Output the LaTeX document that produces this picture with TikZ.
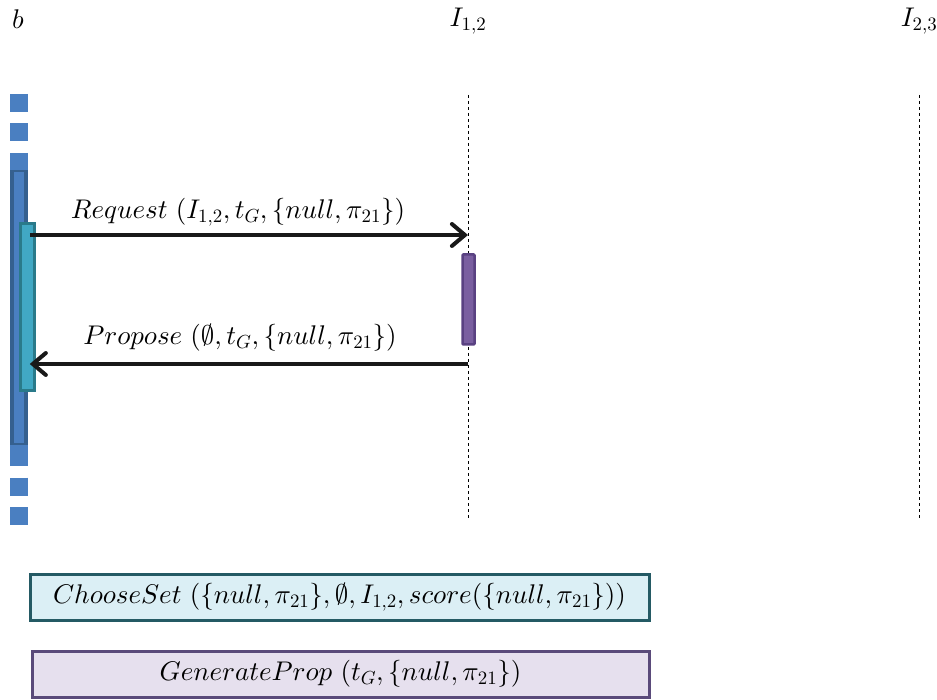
\documentclass[tikz,border=0pt]{standalone}
\usepackage{amsmath}
\usepackage{tikz}
\usetikzlibrary{arrows.meta,positioning}
% scalable math fonts at any size
\DeclareFontFamily{OML}{cmm}{\skewchar\font127}
\DeclareFontShape{OML}{cmm}{m}{it}{<->cmmi10}{}
\DeclareFontFamily{OMS}{cmsy}{\skewchar\font48}
\DeclareFontShape{OMS}{cmsy}{m}{n}{<->cmsy10}{}
\DeclareFontFamily{OT1}{cmr}{\hyphenchar\font45}
\DeclareFontShape{OT1}{cmr}{m}{n}{<->cmr10}{}
\newcommand{\diafont}{\fontsize{27}{32}\selectfont}
\definecolor{lifeblue}{HTML}{4A7FC1}
\definecolor{lifedark}{HTML}{35608F}
\definecolor{actteal}{HTML}{41A8C4}
\definecolor{actdark}{HTML}{2A7A8A}
\definecolor{actpurple}{HTML}{7A5FA0}
\definecolor{purpledark}{HTML}{5A4282}
\definecolor{chfill}{HTML}{DBEFF5}
\definecolor{chdraw}{HTML}{245A64}
\definecolor{gpfill}{HTML}{E6E0EE}
\definecolor{gpdraw}{HTML}{5A4A7A}
\tikzset{
  head/.style={inner sep=0pt, font=\diafont},
  msg/.style={-{Straight Barb[length=13pt, width=22pt, line width=4pt, line cap=round]}, line width=4pt, black!90},
  lbl/.style={inner sep=0pt, font=\diafont},
  life/.style={dashed, thin, black},
  actb/.style={rectangle, draw=actdark, line width=2.5pt, fill=actteal, minimum width=14pt, minimum height=167pt, inner sep=0pt},
  actp/.style={rectangle, rounded corners=1pt, draw=purpledark, line width=2.5pt, fill=actpurple, minimum width=12pt, minimum height=90pt, inner sep=0pt},
  task/.style={rectangle, line width=3pt, minimum height=46pt, inner sep=0pt, font=\diafont},
}
\begin{document}
\begin{tikzpicture}[x=1pt, y=-1pt]
\useasboundingbox (0,0) rectangle (937,700);
% lifeline heads
\node[head] (b) at (18,19) {$b$};
\node[head] (i12) at (468,21) {$I_{1,2}$};
\node[head] (i23) at (919,21) {$I_{2,3}$};
% lifeline of b
\coordinate (btop) at (18.5,94);
\coordinate (bbot) at (18.5,525);
\draw[lifeblue, line width=18pt, dash pattern=on 18pt off 11.5pt] (btop) -- (bbot);
\fill[lifeblue] (9.5,153) rectangle (27.5,463);
\draw[lifedark, line width=4pt] (11.5,172) rectangle (25.5,443);
\fill[lifeblue] (13.5,172) rectangle (23.5,443);
% lifelines of the two items
\coordinate (ltop12) at (468,95);
\coordinate (lbot12) at (468,520);
\coordinate (ltop23) at (919,95);
\coordinate (lbot23) at (919,520);
\draw[life] (ltop12) -- (lbot12);
\draw[life] (ltop23) -- (lbot23);
% activations
\node[actb] (act1) at (27.5,307) {};
\node[actp] (act2) at (468.5,299.5) {};
% messages
\coordinate (req1) at (act1.east |- 0,235);
\coordinate (req2) at (468,235);
\coordinate (pro1) at (468,364);
\coordinate (pro2) at ([xshift=-6pt]act1.east |- 0,364);
\draw[msg] ([xshift=-6pt]req1) -- (req2);
\draw[msg] (pro1) -- (pro2);
\node[lbl] (reqlbl) at (238,212) {$Request\ (I_{1,2}, t_G, \{null, \pi_{21}\})$};
\node[lbl] (prolbl) at (240,338) {$Propose\ (\emptyset, t_G, \{null, \pi_{21}\})$};
% tasks
\node[task, draw=chdraw, fill=chfill, minimum width=619pt] (choose) at (339.5,597) {$ChooseSet\ (\{null, \pi_{21}\}, \emptyset, I_{1,2}, score(\{null, \pi_{21}\}))$};
\node[task, draw=gpdraw, fill=gpfill, minimum width=617pt] (gen) at (340.5,674) {$GenerateProp\ (t_G, \{null, \pi_{21}\})$};
\end{tikzpicture}
\end{document}
